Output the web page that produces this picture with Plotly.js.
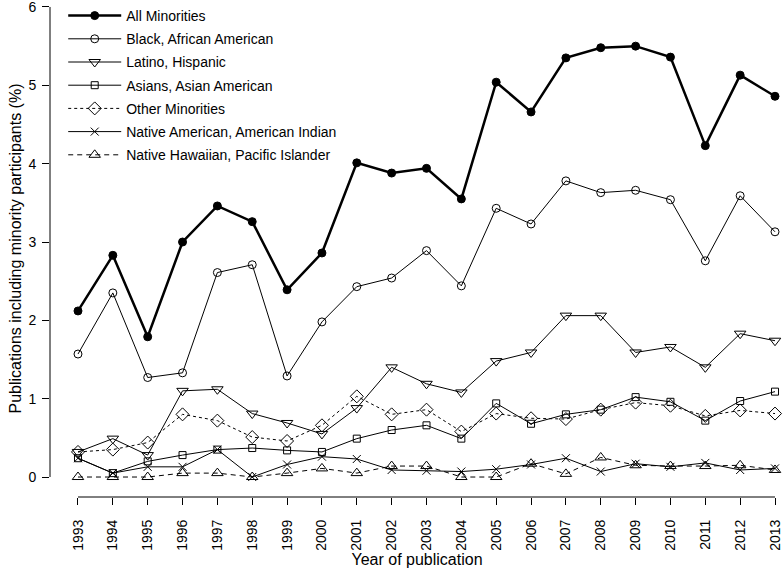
<!DOCTYPE html>
<html>
<head>
<meta charset="utf-8">
<script src="https://cdn.plot.ly/plotly-3.0.1.min.js"></script>
<style>html,body{margin:0;padding:0;background:#fff;}#chart{width:784px;height:570px;}</style>
</head>
<body>
<div id="chart"></div>
<script>
const years = [1993,1994,1995,1996,1997,1998,1999,2000,2001,2002,2003,2004,2005,2006,2007,2008,2009,2010,2011,2012,2013];
const allMinorities = [2.12,2.83,1.79,3.00,3.46,3.26,2.39,2.86,4.01,3.88,3.94,3.55,5.04,4.66,5.35,5.48,5.50,5.36,4.23,5.13,4.86];
const black = [1.57,2.35,1.27,1.33,2.61,2.71,1.29,1.98,2.43,2.54,2.89,2.44,3.43,3.23,3.78,3.63,3.66,3.54,2.76,3.59,3.13];
const latino = [0.32,0.49,0.28,1.10,1.12,0.81,0.69,0.55,0.88,1.40,1.19,1.08,1.48,1.59,2.06,2.06,1.59,1.66,1.40,1.83,1.74];
const asian = [0.24,0.05,0.20,0.28,0.35,0.37,0.34,0.32,0.49,0.60,0.66,0.49,0.94,0.68,0.80,0.86,1.02,0.96,0.72,0.97,1.09];
const other = [0.32,0.35,0.44,0.80,0.72,0.51,0.46,0.66,1.03,0.80,0.86,0.58,0.81,0.75,0.74,0.86,0.95,0.91,0.78,0.85,0.81];
const nativeAm = [0.24,0.05,0.13,0.13,0.35,0.00,0.16,0.26,0.23,0.09,0.08,0.07,0.10,0.16,0.24,0.07,0.17,0.13,0.18,0.09,0.11];
const hawaiian = [0.00,0.00,0.00,0.05,0.05,0.00,0.05,0.11,0.05,0.14,0.14,0.00,0.00,0.17,0.04,0.25,0.15,0.14,0.14,0.15,0.09];

const seriesNames = ["All Minorities","Black, African American","Latino, Hispanic","Asians, Asian American","Other Minorities","Native American, American Indian","Native Hawaiian, Pacific Islander"];
const yTicks = [0,1,2,3,4,5,6];

const FONT = "Liberation Sans, Arial, Helvetica, sans-serif";

function tr(i, y, symbol, size, lw, dash) {
  return {
    x: years, y: y, name: seriesNames[i], type: "scatter", mode: "lines+markers",
    legendgroup: "g" + i,
    line: {color: "#000", width: lw, dash: dash},
    marker: {symbol: symbol, size: size, color: "#000", line: {color: "#000", width: 1}},
    cliponaxis: false
  };
}

const data = [
  tr(0, allMinorities, "circle", 8, 2.5, "solid"),
  tr(1, black, "circle-open", 8, 1, "solid"),
  tr(2, latino, "triangle-down-open", 10, 1, "solid"),
  tr(3, asian, "square-open", 7, 1, "solid"),
  tr(4, other, "diamond-open", 10, 1, "dot"),
  tr(5, nativeAm, "x-thin-open", 8, 1, "solid"),
  tr(6, hawaiian, "triangle-up-open", 10, 1, "5px,4px")
];

const xmin = Math.min(...years), xmax = Math.max(...years);
const ymin = Math.min(...yTicks), ymax = Math.max(...yTicks);

const layout = {
  width: 784, height: 570,
  margin: {l: 50, r: 0, t: 0, b: 73, pad: 0, autoexpand: false},
  paper_bgcolor: "#fff", plot_bgcolor: "#fff",
  font: {family: FONT, size: 14, color: "#000"},
  showlegend: true,
  legend: {x: 0.018, y: 1.0, xanchor: "left", yanchor: "top", bgcolor: "rgba(0,0,0,0)",
           font: {family: FONT, size: 14, color: "#000"}, itemwidth: 53, tracegroupgap: 2,
           traceorder: "grouped"},
  xaxis: {
    range: [1992.197, 2013.258], tickmode: "array", tickvals: years, ticktext: years.map(String),
    tickangle: -90, ticks: "outside", ticklen: 7, tickwidth: 1, tickcolor: "#000",
    showline: false, showgrid: false, zeroline: false, ticklabelstandoff: 9,
    tickfont: {family: FONT, size: 14, color: "#000"},
    title: {text: "Year of publication", font: {family: FONT, size: 16, color: "#000"}, standoff: 1}
  },
  yaxis: {
    range: [-0.255, 6.089], tickmode: "array", tickvals: yTicks, ticktext: yTicks.map(String),
    ticks: "outside", ticklen: 7, tickwidth: 1, tickcolor: "#000", ticklabeloverflow: "allow",
    showline: false, showgrid: false, zeroline: false, ticklabelstandoff: 3,
    tickfont: {family: FONT, size: 14, color: "#000"},
    title: {text: "Publications including minority participants (%)", font: {family: FONT, size: 16, color: "#000"}, standoff: 2}
  },
  shapes: [
    {type: "line", xref: "x", yref: "paper", x0: xmin, x1: xmax, y0: 0, y1: 0, line: {color: "#000", width: 1}},
    {type: "line", xref: "paper", yref: "y", x0: 0, x1: 0, y0: ymin, y1: ymax, line: {color: "#000", width: 1}}
  ]
};

Plotly.newPlot("chart", data, layout, {staticPlot: true, displayModeBar: false});
</script>
</body>
</html>
